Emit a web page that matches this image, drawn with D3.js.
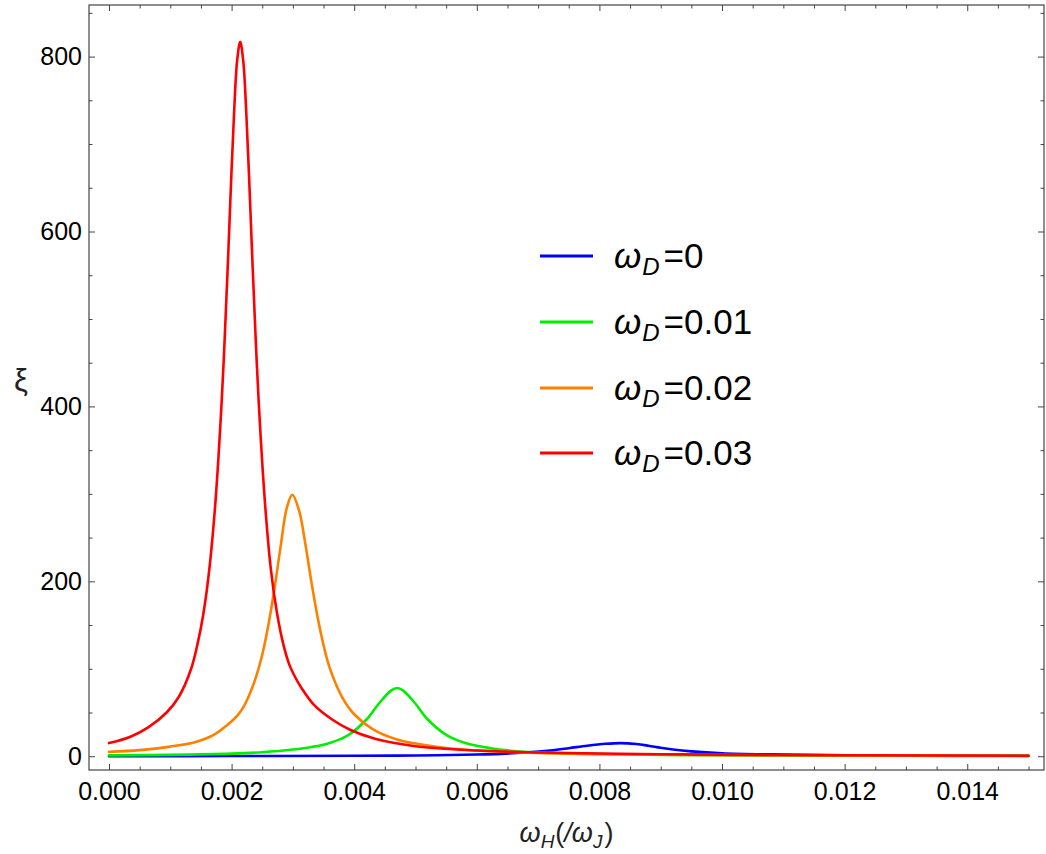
<!DOCTYPE html>
<html>
<head>
<meta charset="utf-8">
<script src="https://cdn.jsdelivr.net/npm/d3@7"></script>
<style>
  body { margin: 0; background: #fff; }
  svg { display: block; }
  text { font-family: "Liberation Sans", Arial, sans-serif; }
</style>
</head>
<body>
<svg id="chart" width="1046" height="854"></svg>
<script>
// ---- data ----
const seriesNames = ["0", "0.01", "0.02", "0.03"];
const seriesColors = ["#0000ff", "#00ee00", "#ff8000", "#ff0000"];

const blueX = [0, 0.002, 0.004, 0.005, 0.006, 0.0064, 0.0068, 0.0072, 0.0075, 0.0078, 0.0081, 0.00834, 0.0086, 0.0088, 0.0090, 0.0092, 0.0095, 0.0100, 0.0110, 0.0120, 0.0150];
const blueY = [0.1, 0.2, 0.5, 0.9, 1.9, 2.7, 4.2, 6.6, 9.2, 12.0, 14.2, 15, 14.0, 12.0, 9.6, 7.6, 5.5, 3.4, 1.9, 1.1, 0.45];

const greenX = [0, 0.001, 0.002, 0.0025, 0.003, 0.0033, 0.0036, 0.0039, 0.0042, 0.0044, 0.0046, 0.0047, 0.0048, 0.0050, 0.0052, 0.0055, 0.0058, 0.0062, 0.0066, 0.0072, 0.008, 0.009, 0.011, 0.013, 0.015];
const greenY = [1.0, 1.6, 3.0, 4.6, 7.6, 10.5, 15.2, 24, 42, 60, 75, 78, 75, 60, 42, 24.5, 15.5, 9.5, 6.0, 3.8, 2.4, 1.6, 0.8, 0.5, 0.35];

const orangeX = [0, 0.0005, 0.001, 0.0014, 0.0017, 0.002, 0.0021, 0.0022, 0.0023, 0.0024, 0.0025, 0.0026, 0.0027, 0.0028, 0.0029, 0.00299, 0.0031, 0.0032, 0.0033, 0.0034, 0.0035, 0.0036, 0.0038, 0.0040, 0.0043, 0.0047, 0.0050, 0.0055, 0.0060, 0.0070, 0.0080, 0.0090, 0.011, 0.013, 0.015];
const orangeY = [5, 7, 11, 16, 24, 40, 47, 57, 72, 91, 116, 150, 192, 240, 284, 299, 281, 244, 200, 160, 127, 101, 68, 48, 31, 19, 14.5, 9.5, 6.6, 3.8, 2.5, 1.8, 1.1, 0.75, 0.55];

const redX = [0, 0.00034, 0.00064, 0.00094, 0.00114, 0.00134, 0.00144, 0.00154, 0.00164, 0.00174, 0.00184, 0.00189, 0.00194, 0.00199, 0.00204, 0.00209, 0.00214, 0.00219, 0.00224, 0.00229, 0.00234, 0.00239, 0.00244, 0.00254, 0.00264, 0.00274, 0.00284, 0.00294, 0.00304, 0.00314, 0.00334, 0.00364, 0.00394, 0.00434, 0.0050, 0.0060, 0.0070, 0.0080, 0.0090, 0.0100, 0.0120, 0.0150];
const redY = [15, 22, 33, 50, 68, 100, 127, 163, 216, 294, 408, 482, 565, 654, 735, 795, 817, 795, 735, 654, 565, 482, 408, 294, 214, 164, 129, 105, 90, 78, 59, 42, 30, 20, 11.5, 6.5, 4.3, 3.1, 2.3, 1.8, 1.1, 0.6];

const xTickValues = [0, 0.002, 0.004, 0.006, 0.008, 0.010, 0.012, 0.014];
const xTickLabels = ["0.000", "0.002", "0.004", "0.006", "0.008", "0.010", "0.012", "0.014"];
const yTickValues = [0, 200, 400, 600, 800];
const yTickLabels = ["0", "200", "400", "600", "800"];

// ---- layout ----
const fLeft = 89, fRight = 1044, fTop = 5, fBottom = 770;
const svg = d3.select("#chart");

const x = d3.scaleLinear().domain([-0.000326, 0.015252]).range([fLeft, fRight]);
const y = d3.scaleLinear().domain([-15.75, 859]).range([fBottom, fTop]);

const xMinor = d3.range(0, 0.01501, 0.0005).filter(v => xTickValues.every(t => Math.abs(t - v) > 1e-9));
const yMinor = d3.range(0, 851, 50).filter(v => v % 200 !== 0);

const frameColor = "#444";

function styleAxis(g, showLabels) {
  g.select(".domain").remove();
  g.selectAll(".tick line").attr("stroke", frameColor).attr("stroke-width", 1);
  g.selectAll(".tick text").attr("fill", "#000").style("font-size", "25px")
    .style("font-family", '"Liberation Sans", Arial, sans-serif');
  if (!showLabels) g.selectAll(".tick text").remove();
}

// bottom
svg.append("g").attr("transform", `translate(0,${fBottom})`)
  .call(d3.axisBottom(x).tickValues(xTickValues).tickFormat((d, i) => xTickLabels[i]).tickSizeInner(-6).tickSizeOuter(0).tickPadding(12))
  .call(g => styleAxis(g, true));
svg.append("g").attr("transform", `translate(0,${fBottom})`)
  .call(d3.axisBottom(x).tickValues(xMinor).tickFormat("").tickSizeInner(-3.5).tickSizeOuter(0))
  .call(g => styleAxis(g, false));
// top
svg.append("g").attr("transform", `translate(0,${fTop})`)
  .call(d3.axisTop(x).tickValues(xTickValues).tickFormat("").tickSizeInner(-6).tickSizeOuter(0))
  .call(g => styleAxis(g, false));
svg.append("g").attr("transform", `translate(0,${fTop})`)
  .call(d3.axisTop(x).tickValues(xMinor).tickFormat("").tickSizeInner(-3.5).tickSizeOuter(0))
  .call(g => styleAxis(g, false));
// left
svg.append("g").attr("transform", `translate(${fLeft},0)`)
  .call(d3.axisLeft(y).tickValues(yTickValues).tickFormat((d, i) => yTickLabels[i]).tickSizeInner(-6).tickSizeOuter(0).tickPadding(7))
  .call(g => styleAxis(g, true));
svg.append("g").attr("transform", `translate(${fLeft},0)`)
  .call(d3.axisLeft(y).tickValues(yMinor).tickFormat("").tickSizeInner(-3.5).tickSizeOuter(0))
  .call(g => styleAxis(g, false));
// right
svg.append("g").attr("transform", `translate(${fRight},0)`)
  .call(d3.axisRight(y).tickValues(yTickValues).tickFormat("").tickSizeInner(-6).tickSizeOuter(0))
  .call(g => styleAxis(g, false));
svg.append("g").attr("transform", `translate(${fRight},0)`)
  .call(d3.axisRight(y).tickValues(yMinor).tickFormat("").tickSizeInner(-3.5).tickSizeOuter(0))
  .call(g => styleAxis(g, false));

// frame
svg.append("rect").attr("x", fLeft).attr("y", fTop).attr("width", fRight - fLeft).attr("height", fBottom - fTop)
  .attr("fill", "none").attr("stroke", frameColor).attr("stroke-width", 1.2);

// curves
const series = [
  { xs: blueX, ys: blueY },
  { xs: greenX, ys: greenY },
  { xs: orangeX, ys: orangeY },
  { xs: redX, ys: redY }
];
const line = d3.line().x(d => x(d[0])).y(d => y(d[1])).curve(d3.curveCatmullRom.alpha(0.5));
const plot = svg.append("g");
series.forEach((s, i) => {
  const pts = s.xs.map((v, j) => [v, s.ys[j]]);
  plot.append("path").datum(pts).attr("d", line)
    .attr("fill", "none").attr("stroke", seriesColors[i]).attr("stroke-width", 2.6)
    .attr("stroke-linejoin", "round").attr("stroke-linecap", "round");
});

// legend
const legendY = [256, 322, 388, 453];
const lg = svg.append("g");
seriesNames.forEach((name, i) => {
  const yy = legendY[i];
  lg.append("line").attr("x1", 540).attr("x2", 593).attr("y1", yy).attr("y2", yy)
    .attr("stroke", seriesColors[i]).attr("stroke-width", 3);
  const t = lg.append("text").attr("x", 614).attr("y", yy + 12).style("font-size", "35px").attr("fill", "#000");
  t.append("tspan").style("font-style", "italic").text("ω");
  t.append("tspan").style("font-style", "italic").style("font-size", "24px").attr("dy", 7).attr("dx", 1).text("D");
  t.append("tspan").attr("dy", -7).attr("dx", 4).text("=" + name);
});

// axis labels
const xl = svg.append("text").attr("x", (fLeft + fRight) / 2).attr("y", 842).attr("text-anchor", "middle")
  .style("font-size", "27px").attr("fill", "#222");
xl.append("tspan").style("font-style", "italic").text("ω");
xl.append("tspan").style("font-style", "italic").style("font-size", "19px").attr("dy", 6).text("H");
xl.append("tspan").attr("dy", -6).attr("dx", 1).text("(");
xl.append("tspan").style("font-style", "italic").text("/ω");
xl.append("tspan").style("font-style", "italic").style("font-size", "19px").attr("dy", 6).text("J");
xl.append("tspan").attr("dy", -6).attr("dx", 2).text(")");

svg.append("text").attr("x", 21).attr("y", 391).attr("text-anchor", "middle")
  .style("font-size", "31px").attr("fill", "#222").text("ξ");
</script>
</body>
</html>
